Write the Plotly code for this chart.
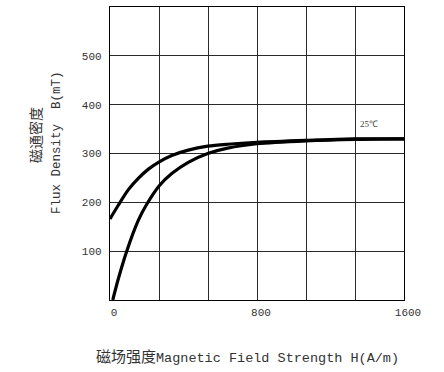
import plotly.graph_objects as go

# Data
upper_H = [0, 45, 100, 154, 209, 268, 336, 426, 532, 640, 800, 1067, 1333, 1600]
upper_B = [166, 194, 226, 249, 268, 283, 296, 307, 315, 319, 323, 327, 330, 330]

lower_H = [15, 45, 91, 154, 200, 268, 336, 426, 532, 640, 800, 1067, 1333, 1600]
lower_B = [0, 43, 100, 163, 196, 234, 259, 282, 300, 311, 320, 326, 329, 330]

x_ticks = [0, 800, 1600]
y_ticks = [100, 200, 300, 400, 500]

grid_color = "#2a2a2a"
mono = "Liberation Mono, DejaVu Sans Mono, monospace"

fig = go.Figure()
for hx, by in [(upper_H, upper_B), (lower_H, lower_B)]:
    fig.add_trace(go.Scatter(
        x=hx, y=by, mode="lines",
        line=dict(color="black", width=3.2, shape="spline", smoothing=0.8),
        showlegend=False, hoverinfo="skip"))

fig.update_layout(
    width=444, height=372,
    margin=dict(l=110, r=40, t=7, b=72),
    paper_bgcolor="white", plot_bgcolor="white",
    xaxis=dict(
        range=[0, 1600], tickvals=x_ticks, ticktext=[str(v) for v in x_ticks],
        showgrid=True, gridcolor=grid_color, gridwidth=1.2,
        minor=dict(dtick=1600 / 6, tick0=0, showgrid=True,
                   gridcolor=grid_color, gridwidth=1.2, ticks=""),
        showline=True, linecolor="black", linewidth=1.4, mirror=True,
        ticks="", ticklabelstandoff=2, ticklabelshift=4,
        tickfont=dict(family=mono, size=11, color="#333"),
        zeroline=False, fixedrange=True),
    yaxis=dict(
        range=[0, 600], tickvals=y_ticks, ticktext=[str(v) for v in y_ticks],
        showgrid=True, gridcolor=grid_color, gridwidth=1.2,
        showline=True, linecolor="black", linewidth=1.4, mirror=True,
        ticks="", ticklabelstandoff=5,
        tickfont=dict(family=mono, size=11, color="#333"),
        zeroline=False, fixedrange=True),
)

fig.add_annotation(
    x=1410, y=361, xref="x", yref="y", text="25℃", showarrow=False,
    font=dict(family="Liberation Serif, serif", size=9, color="#444"))

fig.add_annotation(
    x=0, y=0.563, xref="paper", yref="paper", xshift=-75,
    xanchor="center", yanchor="middle",
    text="磁通密度", textangle=-90, showarrow=False,
    font=dict(family="Noto Sans CJK SC", size=14, color="#333"))

fig.add_annotation(
    x=0, y=0.536, xref="paper", yref="paper", xshift=-53,
    xanchor="center", yanchor="middle",
    text="Flux Density\u00a0\u00a0B(mT)", textangle=-90, showarrow=False,
    font=dict(family=mono, size=12.5, color="#333"))

fig.add_annotation(
    x=0.468, y=-0.188, xref="paper", yref="paper",
    xanchor="center", yanchor="middle",
    text="<span style='font-family:Noto Sans CJK SC;font-size:15px'>磁场强度</span>Magnetic Field Strength H(A/m)",
    showarrow=False,
    font=dict(family=mono, size=13.5, color="#333"))

fig.write_html("out.html", config={"displayModeBar": False},
               post_script="document.body.style.margin='0px';")
